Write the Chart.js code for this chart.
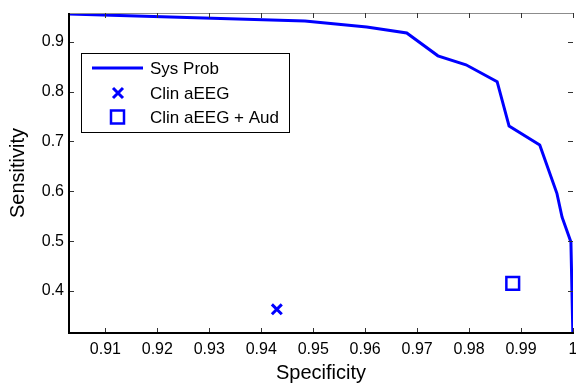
<!DOCTYPE html>
<html>
<head>
<meta charset="utf-8">
<script src="https://cdn.jsdelivr.net/npm/chart.js@4.4.1/dist/chart.umd.min.js"></script>
<style>
    html, body { margin: 0; padding: 0; background: #fff; }
    #wrap { width: 576px; height: 383px; }
</style>
</head>
<body>
<div id="wrap"><canvas id="rocChart" width="576" height="383"></canvas></div>
<script>
// Data
const sysSpecificity = [0.903, 0.9484, 0.9603, 0.968, 0.974, 0.9794, 0.9854, 0.9877, 0.9936, 0.9969, 0.9979, 0.9996, 1.0];
const sysSensitivity = [0.956, 0.942, 0.930, 0.918, 0.872, 0.854, 0.820, 0.731, 0.693, 0.596, 0.548, 0.498, 0.300];
const clinSpecificity = [0.943];
const clinSensitivity = [0.363];
const audSpecificity = [0.9884];
const audSensitivity = [0.415];

const xTicks = [0.91, 0.92, 0.93, 0.94, 0.95, 0.96, 0.97, 0.98, 0.99, 1];
const yTicks = [0.4, 0.5, 0.6, 0.7, 0.8, 0.9];
const legendLabels = ['Sys Prob', 'Clin aEEG', 'Clin aEEG + Aud'];

const blue = '#0000ff';
const fontFamily = '"Liberation Sans", Arial, Helvetica, sans-serif';

const toPoints = (xs, ys) => xs.map((x, i) => ({ x: x, y: ys[i] }));

// Axes frame with inward ticks (MATLAB style)
const axesFramePlugin = {
    id: 'axesFrame',
    afterDatasetsDraw(chart) {
        const { ctx, chartArea: a, scales } = chart;
        ctx.save();
        // top edge, thin grey
        ctx.strokeStyle = '#8c8c8c';
        ctx.lineWidth = 1;
        ctx.beginPath();
        ctx.moveTo(a.left, a.top + 0.5);
        ctx.lineTo(a.right, a.top + 0.5);
        ctx.stroke();

        // ticks
        ctx.strokeStyle = '#333';
        ctx.lineWidth = 1;
        ctx.beginPath();
        xTicks.forEach(v => {
            const px = Math.round(scales.x.getPixelForValue(v)) + 0.5;
            ctx.moveTo(px, a.bottom);
            ctx.lineTo(px, a.bottom - 5);
            ctx.moveTo(px, a.top);
            ctx.lineTo(px, a.top + 5);
        });
        yTicks.forEach(v => {
            const py = Math.round(scales.y.getPixelForValue(v)) + 0.5;
            ctx.moveTo(a.left, py);
            ctx.lineTo(a.left + 5, py);
            ctx.moveTo(a.right, py);
            ctx.lineTo(a.right - 5, py);
        });
        ctx.stroke();

        // left and bottom edges, thick black
        ctx.strokeStyle = '#000';
        ctx.lineWidth = 2;
        ctx.beginPath();
        ctx.moveTo(a.left, a.top);
        ctx.lineTo(a.left, a.bottom);
        ctx.lineTo(a.right + 1, a.bottom);
        ctx.stroke();
        ctx.restore();
    }
};

// Legend box in the upper left
const legendBoxPlugin = {
    id: 'legendBox',
    afterDraw(chart) {
        const ctx = chart.ctx;
        const bx = 81, by = 53, bw = 208, bh = 79;
        ctx.save();
        ctx.fillStyle = '#fff';
        ctx.fillRect(bx, by, bw, bh);
        ctx.strokeStyle = '#000';
        ctx.lineWidth = 1;
        ctx.strokeRect(bx + 0.5, by + 0.5, bw, bh);

        const rows = [68, 93, 117];
        ctx.strokeStyle = blue;

        // line sample
        ctx.lineWidth = 3;
        ctx.beginPath();
        ctx.moveTo(92, rows[0]);
        ctx.lineTo(143, rows[0]);
        ctx.stroke();

        // cross sample
        ctx.lineWidth = 3;
        ctx.beginPath();
        ctx.moveTo(113, rows[1] - 5);
        ctx.lineTo(123, rows[1] + 5);
        ctx.moveTo(123, rows[1] - 5);
        ctx.lineTo(113, rows[1] + 5);
        ctx.stroke();

        // square sample
        ctx.lineWidth = 2.5;
        ctx.strokeRect(111, rows[2] - 6.5, 13, 13);

        ctx.fillStyle = '#000';
        ctx.font = '17px ' + fontFamily;
        ctx.textBaseline = 'middle';
        legendLabels.forEach((label, i) => {
            ctx.fillText(label, 150, rows[i] + 1);
        });
        ctx.restore();
    }
};

const ctx = document.getElementById('rocChart').getContext('2d');

const rocChart = new Chart(ctx, {
    type: 'scatter',
    data: {
        datasets: [
            {
                label: legendLabels[0],
                data: toPoints(sysSpecificity, sysSensitivity),
                showLine: true,
                borderColor: blue,
                backgroundColor: blue,
                borderWidth: 3,
                pointRadius: 0,
                tension: 0
            },
            {
                label: legendLabels[1],
                data: toPoints(clinSpecificity, clinSensitivity),
                showLine: false,
                pointStyle: 'crossRot',
                pointRadius: 7,
                pointBorderWidth: 3,
                borderColor: blue,
                backgroundColor: blue
            },
            {
                label: legendLabels[2],
                data: toPoints(audSpecificity, audSensitivity),
                showLine: false,
                pointStyle: 'rect',
                pointRadius: 9,
                pointBorderWidth: 2.5,
                borderColor: blue,
                backgroundColor: 'rgba(0,0,0,0)'
            }
        ]
    },
    options: {
        responsive: false,
        animation: false,
        events: [],
        layout: {
            autoPadding: false,
            padding: { top: 13, right: 3, left: 0, bottom: 0 }
        },
        plugins: {
            legend: { display: false },
            tooltip: { enabled: false }
        },
        scales: {
            x: {
                type: 'linear',
                min: 0.903,
                max: 1,
                afterFit: (scale) => {
                    scale.height = 50;
                    scale.paddingLeft = 0;
                    scale.paddingRight = 0;
                },
                afterBuildTicks: (scale) => { scale.ticks = xTicks.map(v => ({ value: v })); },
                grid: { display: false, drawTicks: false },
                border: { display: false },
                ticks: {
                    color: '#000',
                    padding: 7,
                    maxRotation: 0,
                    autoSkip: false,
                    font: { family: fontFamily, size: 16 },
                    callback: (value) => String(parseFloat(value.toFixed(2)))
                },
                title: {
                    display: true,
                    text: 'Specificity',
                    color: '#000',
                    font: { family: fontFamily, size: 20, lineHeight: 1 },
                    padding: { top: 0, bottom: 0 }
                }
            },
            y: {
                type: 'linear',
                min: 0.3155,
                max: 0.958,
                afterFit: (scale) => {
                    scale.width = 69;
                    scale.paddingTop = 0;
                    scale.paddingBottom = 0;
                },
                afterBuildTicks: (scale) => { scale.ticks = yTicks.map(v => ({ value: v })); },
                grid: { display: false, drawTicks: false },
                border: { display: false },
                ticks: {
                    color: '#000',
                    padding: 5,
                    autoSkip: false,
                    font: { family: fontFamily, size: 16 },
                    callback: (value) => value.toFixed(1)
                },
                title: {
                    display: true,
                    text: 'Sensitivity',
                    color: '#000',
                    font: { family: fontFamily, size: 20, lineHeight: 1 },
                    padding: { top: 8, bottom: 0 }
                }
            }
        }
    },
    plugins: [axesFramePlugin, legendBoxPlugin]
});
</script>
</body>
</html>
